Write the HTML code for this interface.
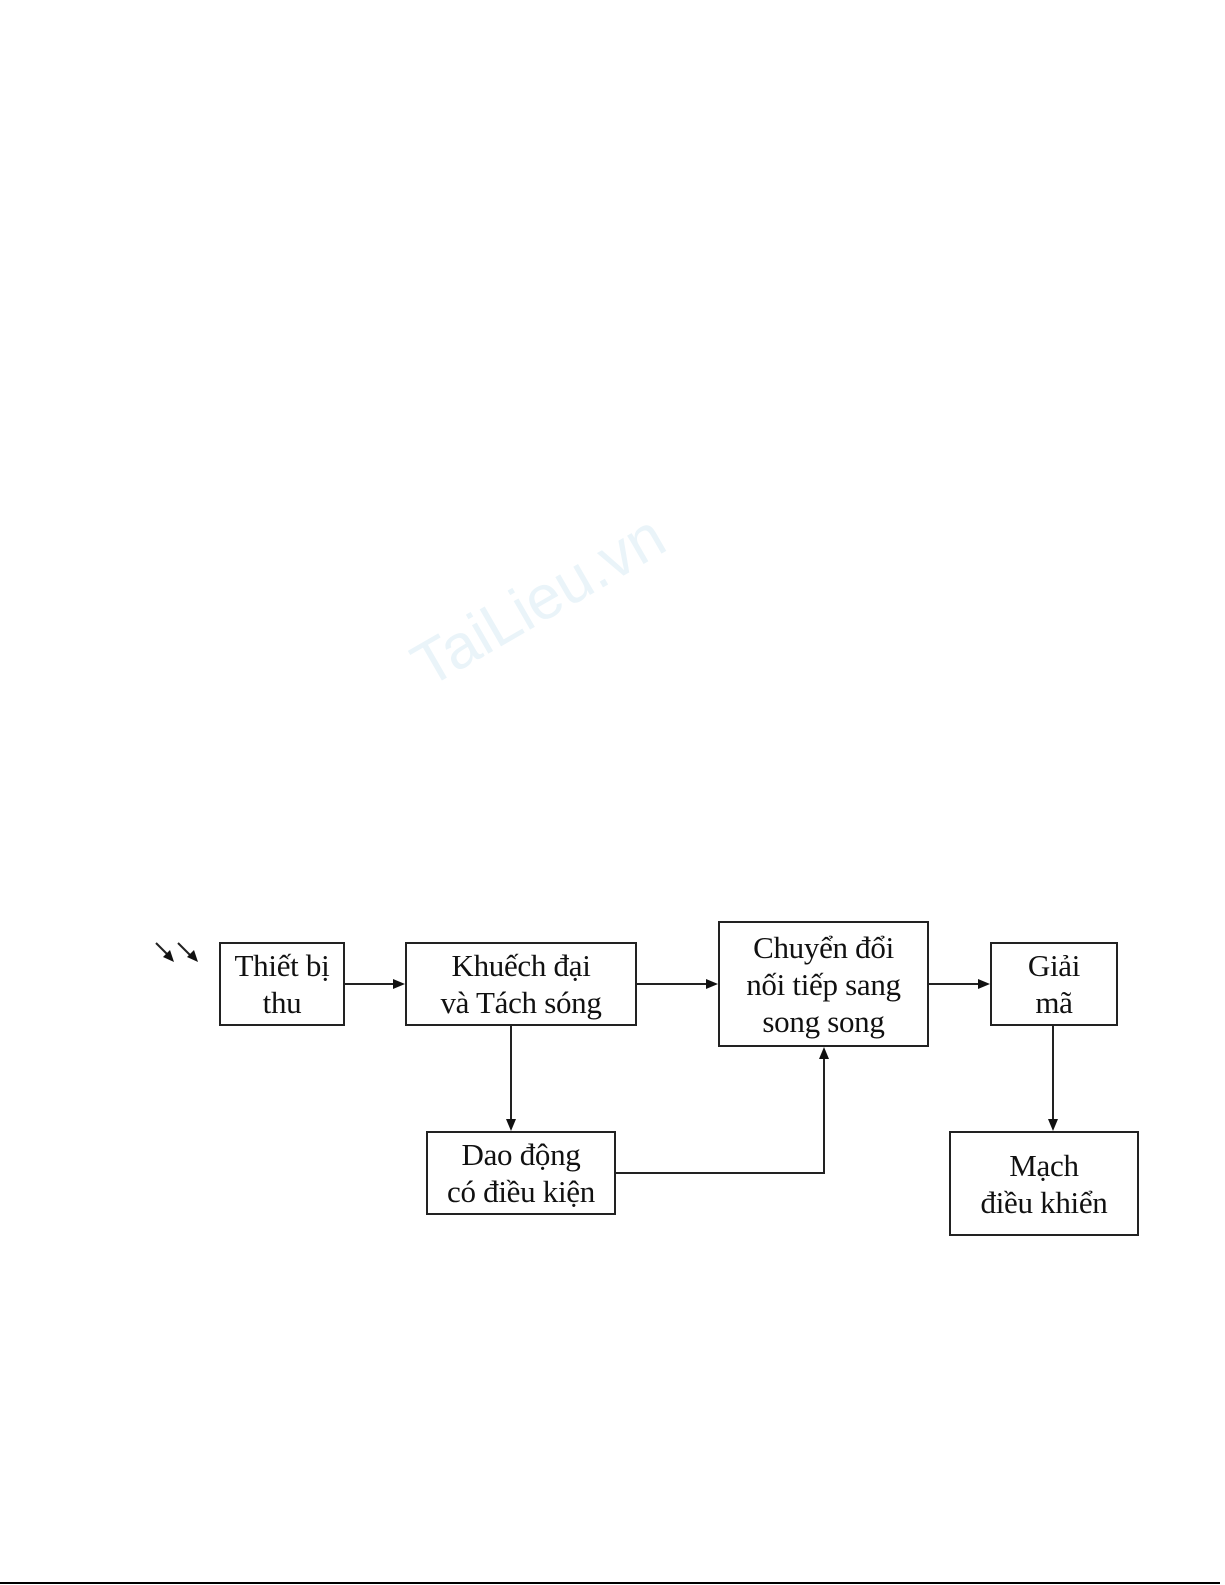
<!DOCTYPE html>
<html><head><meta charset="utf-8"><style>
html,body{margin:0;padding:0;background:#fff}
body{width:1225px;height:1585px;position:relative;overflow:hidden;font-family:"Liberation Serif",serif;}
.b{position:absolute;border:2px solid #222;box-sizing:border-box;display:flex;align-items:center;justify-content:center;text-align:center;font-size:31px;line-height:37px;color:#111;letter-spacing:-0.3px}
.wm{position:absolute;left:400px;top:640px;font-family:"Liberation Sans",sans-serif;font-size:62px;color:#eaf4f9;transform:rotate(-30deg);transform-origin:left top;}
</style></head><body>
<div class="wm">TaiLieu.vn</div>
<div class="b" style="left:219px;top:942px;width:126px;height:84px">Thiết bị<br>thu</div>
<div class="b" style="left:405px;top:942px;width:232px;height:84px">Khuếch đại<br>và Tách sóng</div>
<div class="b" style="left:718px;top:921px;width:211px;height:126px">Chuyển đổi<br>nối tiếp sang<br>song song</div>
<div class="b" style="left:990px;top:942px;width:128px;height:84px">Giải<br>mã</div>
<div class="b" style="left:426px;top:1131px;width:190px;height:84px">Dao động<br>có điều kiện</div>
<div class="b" style="left:949px;top:1131px;width:190px;height:105px">Mạch<br>điều khiển</div>
<svg width="1225" height="1585" style="position:absolute;left:0;top:0">
<g stroke="#222" stroke-width="2" fill="none">
<line x1="345" y1="984" x2="395" y2="984"/>
<line x1="637" y1="984" x2="708" y2="984"/>
<line x1="929" y1="984" x2="980" y2="984"/>
<line x1="511" y1="1026" x2="511" y2="1120"/>
<polyline points="616,1173 824,1173 824,1058"/>
<line x1="1053" y1="1026" x2="1053" y2="1120"/>
<line x1="156" y1="943" x2="168" y2="955"/>
<line x1="178" y1="943" x2="190" y2="955"/>
</g>
<g fill="#111">
<polygon points="405,984 393,979 393,989"/>
<polygon points="718,984 706,979 706,989"/>
<polygon points="990,984 978,979 978,989"/>
<polygon points="511,1131 506,1119 516,1119"/>
<polygon points="824,1047 819,1059 829,1059"/>
<polygon points="1053,1131 1048,1119 1058,1119"/>
<polygon points="174,962 163,957 170,950"/>
<polygon points="198,962 187,957 194,950"/>
</g>
<line x1="0" y1="1583" x2="1220" y2="1583" stroke="#000" stroke-width="2"/>
</svg>
</body></html>
